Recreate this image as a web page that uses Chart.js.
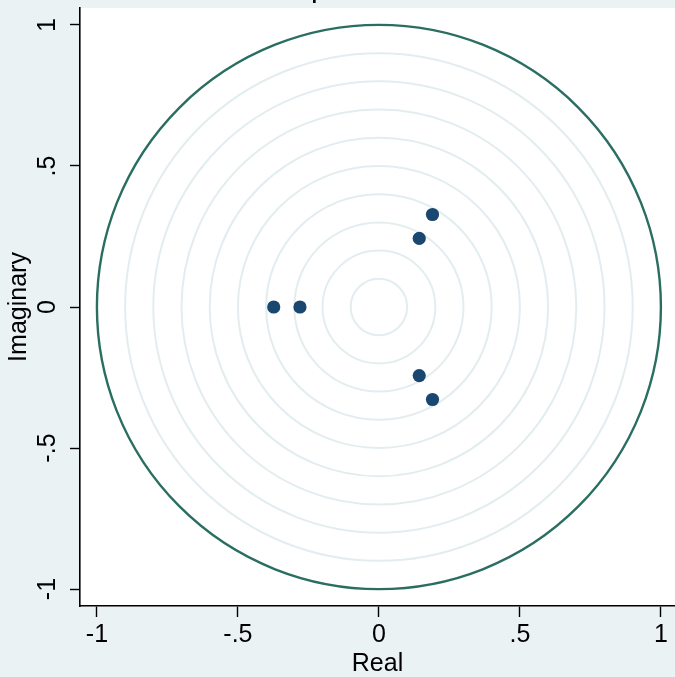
<!DOCTYPE html>
<html>
<head>
<meta charset="utf-8">
<script src="https://cdn.jsdelivr.net/npm/chart.js@4.4.1/dist/chart.umd.min.js"></script>
<style>
  html, body { margin: 0; padding: 0; background: #eaf2f3; overflow: hidden; }
  #wrap { width: 675px; height: 677px; }
</style>
</head>
<body>
<div id="wrap"><canvas id="rootsChart" width="675" height="677"></canvas></div>
<script>
// eigenvalues of the companion matrix
const realParts = [0.190, 0.143, -0.373, -0.280, 0.143, 0.190];
const imagParts = [0.328, 0.243, 0, 0, -0.243, -0.328];

// axis ticks
const tickValues = [-1, -0.5, 0, 0.5, 1];
const tickLabels = ["-1", "-.5", "0", ".5", "1"];

// reference circles
const ringRadii = [0.1, 0.2, 0.3, 0.4, 0.5, 0.6, 0.7, 0.8, 0.9];
const unitRadius = 1;

const FONT = "'Liberation Sans', Arial, Helvetica, sans-serif";

const points = realParts.map((re, i) => ({ x: re, y: imagParts[i] }));

// white plot region
const plotBg = {
    id: "plotBg",
    beforeDraw(chart) {
        const { ctx, chartArea: a } = chart;
        ctx.save();
        ctx.fillStyle = "#ffffff";
        ctx.fillRect(a.left, a.top, a.right - a.left, a.bottom - a.top);
        ctx.restore();
    }
};

// circles drawn through the scales
const circles = {
    id: "circles",
    beforeDatasetsDraw(chart) {
        const { ctx, chartArea: a, scales: { x, y } } = chart;
        const cx = x.getPixelForValue(0), cy = y.getPixelForValue(0);
        ctx.save();
        ctx.beginPath();
        ctx.rect(a.left, a.top, a.right - a.left, a.bottom - a.top);
        ctx.clip();
        ringRadii.forEach(r => {
            const rx = Math.abs(x.getPixelForValue(r) - cx);
            const ry = Math.abs(y.getPixelForValue(r) - cy);
            ctx.beginPath();
            ctx.ellipse(cx, cy, rx, ry, 0, 0, Math.PI * 2);
            ctx.strokeStyle = "#e3edf0";
            ctx.lineWidth = 2;
            ctx.stroke();
        });
        const rx = Math.abs(x.getPixelForValue(unitRadius) - cx);
        const ry = Math.abs(y.getPixelForValue(unitRadius) - cy);
        ctx.beginPath();
        ctx.ellipse(cx, cy, rx, ry, 0, 0, Math.PI * 2);
        ctx.strokeStyle = "#2a6e62";
        ctx.lineWidth = 2.4;
        ctx.stroke();
        ctx.restore();
    }
};

// graph title, mostly cut off at the top of the picture
const topTitle = {
    id: "topTitle",
    afterDraw(chart) {
        const ctx = chart.ctx;
        ctx.save();
        ctx.font = "30px " + FONT;
        ctx.fillStyle = "#000";
        ctx.textBaseline = "alphabetic";
        ctx.textAlign = "left";
        const pre = ctx.measureText("Roots of the com").width;
        ctx.fillText("Roots of the companion matrix", 311 - pre, -3);
        ctx.restore();
    }
};

function noOverflow(s) {
    s.paddingLeft = 0;
    s.paddingRight = 0;
    s.paddingTop = 0;
    s.paddingBottom = 0;
}

const axisCommon = {
    type: "linear",
    min: -1.06,
    border: { display: true, color: "#000", width: 1.6 },
    grid: { drawOnChartArea: false, drawTicks: true, tickLength: 10, tickColor: "#000", tickWidth: 1.4 },
    afterBuildTicks: s => { s.ticks = tickValues.map(v => ({ value: v })); }
};

new Chart(document.getElementById("rootsChart"), {
    type: "scatter",
    data: {
        datasets: [{
            data: points,
            backgroundColor: "#1a476f",
            borderWidth: 0,
            pointRadius: 6.6
        }]
    },
    options: {
        responsive: false,
        animation: false,
        layout: { autoPadding: false, padding: { top: 8, right: 0, left: 0, bottom: 0 } },
        plugins: { legend: { display: false }, tooltip: { enabled: false }, title: { display: false } },
        scales: {
            x: {
                ...axisCommon,
                max: 1.05,
                grid: { ...axisCommon.grid, tickLength: 11 },
                ticks: {
                    color: "#000",
                    font: { family: FONT, size: 25 },
                    padding: 3,
                    maxRotation: 0,
                    callback: v => tickLabels[tickValues.indexOf(v)]
                },
                title: { display: true, text: "Real", color: "#000", font: { family: FONT, size: 25, lineHeight: 1 }, padding: 0 },
                afterFit: s => { s.height = 71; noOverflow(s); }
            },
            y: {
                ...axisCommon,
                max: 1.06,
                ticks: {
                    color: "#000",
                    font: { family: FONT, size: 25 },
                    padding: 7,
                    minRotation: 90,
                    maxRotation: 90,
                    crossAlign: "center",
                    callback: v => tickLabels[tickValues.indexOf(v)]
                },
                title: { display: true, text: "Imaginary", color: "#000", font: { family: FONT, size: 25, lineHeight: 1 }, padding: { top: 7, bottom: 0 } },
                afterFit: s => { s.width = 80; noOverflow(s); }
            }
        }
    },
    plugins: [plotBg, circles, topTitle]
});
</script>
</body>
</html>
